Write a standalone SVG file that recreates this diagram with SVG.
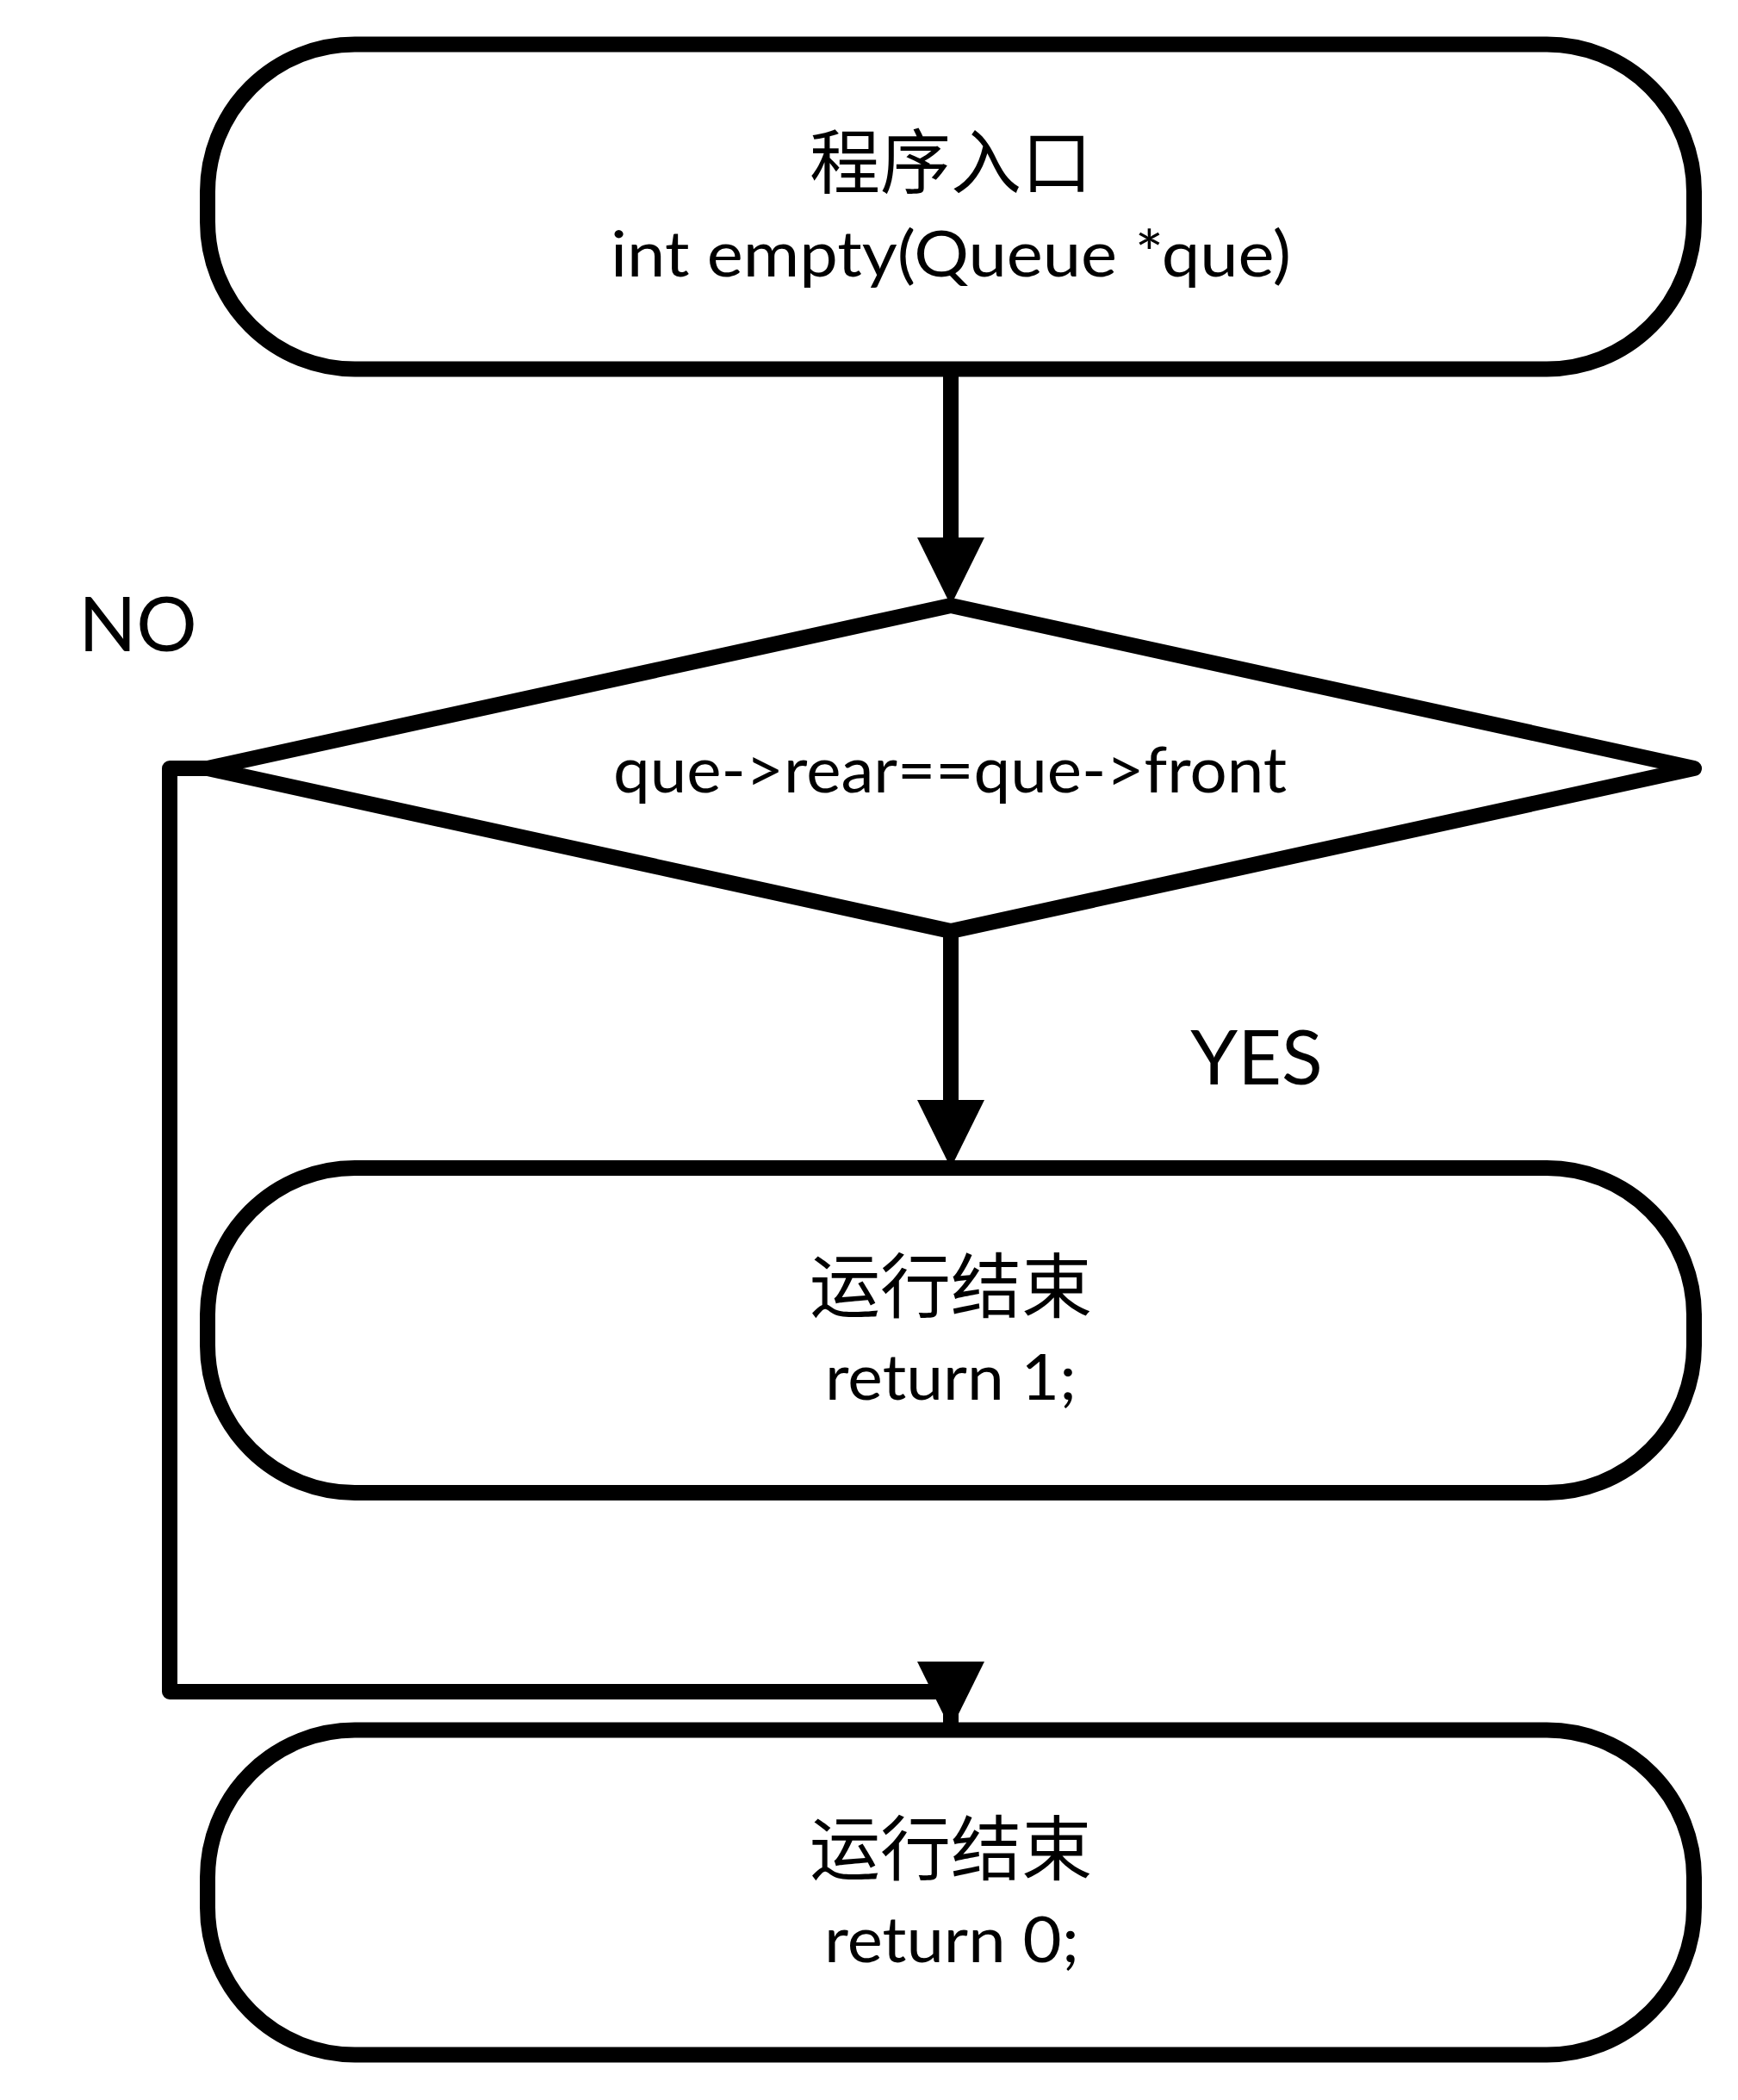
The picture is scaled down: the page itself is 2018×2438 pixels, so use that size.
<svg xmlns="http://www.w3.org/2000/svg" width="2018" height="2438" viewBox="0 0 2018 2438">
  <style>
    .node { fill: #ffffff; stroke: #000000; stroke-width: 18; stroke-linejoin: round; }
    .conn { fill: none; stroke: #000000; stroke-width: 18; stroke-linejoin: round; }
    .head { fill: #000000; stroke: none; }
    .cjk { font-family: "Noto Sans CJK SC", "Noto Sans CJK TC", sans-serif; font-size: 82px; fill: #000000; text-anchor: middle; }
    .txt { font-family: Lato, "Liberation Sans", sans-serif; font-size: 74px; fill: #000000; text-anchor: middle; }
    .lbl { font-family: Lato, "Liberation Sans", sans-serif; font-size: 88px; fill: #000000; text-anchor: middle; }
  </style>
  <rect x="0" y="0" width="2018" height="2438" fill="#ffffff"/>

  <g id="connectors">
    <line class="conn" x1="1104" y1="428" x2="1104" y2="640"/>
    <polygon class="head" points="1065,624 1143,624 1104,703"/>
    <line class="conn" x1="1104" y1="1081" x2="1104" y2="1290"/>
    <polygon class="head" points="1065,1277 1143,1277 1104,1356"/>
    <polyline class="conn" points="241,892 197,892 197,1964 1104,1964 1104,2008"/>
    <polygon class="head" points="1065,1929 1143,1929 1104,2008"/>
    <text class="lbl" x="160" y="756">NO</text>
    <text class="lbl" x="1459" y="1259">YES</text>
  </g>

  <g id="start">
    <rect class="node" x="241" y="51.5" width="1726" height="377" rx="171" ry="171"/>
    <text class="cjk" x="1104" y="218">程序入口</text>
    <text class="txt" x="1104" y="321" textLength="790" lengthAdjust="spacingAndGlyphs">int empty(Queue *que)</text>
  </g>

  <g id="decision">
    <polygon class="node" points="1104,703 1967,892 1104,1081 241,892"/>
    <text class="txt" x="1103" y="920" textLength="782" lengthAdjust="spacingAndGlyphs">que-&gt;rear==que-&gt;front</text>
  </g>

  <g id="end-yes">
    <rect class="node" x="241" y="1356" width="1726" height="377" rx="171" ry="171"/>
    <text class="cjk" x="1104" y="1523">运行结束</text>
    <text class="txt" x="1104" y="1625" textLength="292" lengthAdjust="spacingAndGlyphs">return 1;</text>
  </g>

  <g id="end-no">
    <rect class="node" x="241" y="2008.5" width="1726" height="377" rx="171" ry="171"/>
    <text class="cjk" x="1104" y="2176">运行结束</text>
    <text class="txt" x="1105" y="2278" textLength="296" lengthAdjust="spacingAndGlyphs">return 0;</text>
  </g>
</svg>
